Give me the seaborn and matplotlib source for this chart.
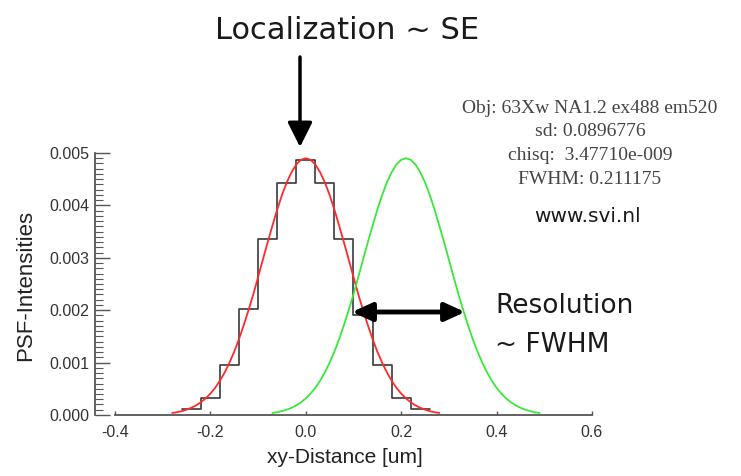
import numpy as np
import pandas as pd
import seaborn as sns
import matplotlib.pyplot as plt
from matplotlib.ticker import MultipleLocator, FormatStrFormatter

# histogram of the measured PSF (bin edges and heights)
bin_edges = [-0.26, -0.22, -0.18, -0.14, -0.10, -0.06, -0.02,
             0.02, 0.06, 0.10, 0.14, 0.18, 0.22, 0.26]
bin_heights = [0.00012, 0.00032, 0.00095, 0.00203, 0.00335, 0.00443, 0.00487,
               0.00443, 0.00335, 0.00190, 0.00095, 0.00032, 0.00012]

# fitted curve (red)
fit_x = [-0.28, -0.27, -0.26, -0.25, -0.24, -0.23, -0.22, -0.21, -0.20, -0.19,
         -0.18, -0.17, -0.16, -0.15, -0.14, -0.13, -0.12, -0.11, -0.10, -0.09,
         -0.08, -0.07, -0.06, -0.05, -0.04, -0.03, -0.02, -0.01, 0.00, 0.01,
         0.02, 0.03, 0.04, 0.05, 0.06, 0.07, 0.08, 0.09, 0.10, 0.11,
         0.12, 0.13, 0.14, 0.15, 0.16, 0.17, 0.18, 0.19, 0.20, 0.21,
         0.22, 0.23, 0.24, 0.25, 0.26, 0.27, 0.28]
fit_y = [0.000038, 0.000053, 0.000073, 0.000101, 0.000137, 0.000183, 0.000242,
         0.000317, 0.000408, 0.000519, 0.000654, 0.000813, 0.000998, 0.001209,
         0.001450, 0.001716, 0.002003, 0.002305, 0.002632, 0.002965, 0.003293,
         0.003611, 0.003918, 0.004197, 0.004437, 0.004632, 0.004780, 0.004870,
         0.004900, 0.004870, 0.004780, 0.004632, 0.004437, 0.004197, 0.003918,
         0.003611, 0.003293, 0.002965, 0.002632, 0.002305, 0.002003, 0.001716,
         0.001450, 0.001209, 0.000998, 0.000813, 0.000654, 0.000519, 0.000408,
         0.000317, 0.000242, 0.000183, 0.000137, 0.000101, 0.000073, 0.000053,
         0.000038]

# second PSF shifted by one FWHM (green)
shift_x = [-0.07, -0.06, -0.05, -0.04, -0.03, -0.02, -0.01, 0.00, 0.01, 0.02,
           0.03, 0.04, 0.05, 0.06, 0.07, 0.08, 0.09, 0.10, 0.11, 0.12,
           0.13, 0.14, 0.15, 0.16, 0.17, 0.18, 0.19, 0.20, 0.21, 0.22,
           0.23, 0.24, 0.25, 0.26, 0.27, 0.28, 0.29, 0.30, 0.31, 0.32,
           0.33, 0.34, 0.35, 0.36, 0.37, 0.38, 0.39, 0.40, 0.41, 0.42,
           0.43, 0.44, 0.45, 0.46, 0.47, 0.48, 0.49]
shift_y = [0.000038, 0.000053, 0.000073, 0.000101, 0.000137, 0.000183, 0.000242,
           0.000317, 0.000408, 0.000519, 0.000654, 0.000813, 0.000998, 0.001209,
           0.001450, 0.001716, 0.002003, 0.002305, 0.002632, 0.002965, 0.003293,
           0.003611, 0.003918, 0.004197, 0.004437, 0.004632, 0.004780, 0.004870,
           0.004900, 0.004870, 0.004780, 0.004632, 0.004437, 0.004197, 0.003918,
           0.003611, 0.003293, 0.002965, 0.002632, 0.002305, 0.002003, 0.001716,
           0.001450, 0.001209, 0.000998, 0.000813, 0.000654, 0.000519, 0.000408,
           0.000317, 0.000242, 0.000183, 0.000137, 0.000101, 0.000073, 0.000053,
           0.000038]

x_ticks = [-0.4, -0.2, 0.0, 0.2, 0.4, 0.6]
y_ticks = [0.000, 0.001, 0.002, 0.003, 0.004, 0.005]

info_lines = ["Obj: 63Xw NA1.2 ex488 em520",
              "sd: 0.0896776",
              "chisq:  3.47710e-009",
              "FWHM: 0.211175"]

sns.set_style("ticks")
plt.rcParams["axes.unicode_minus"] = False
plt.rcParams["font.family"] = ["Liberation Sans", "DejaVu Sans"]

fig = plt.figure(figsize=(7.41, 4.76), dpi=100)
ax = fig.add_axes([0.1552, 0.1282, 0.6437, 0.5504])

centers = [(a + b) / 2 for a, b in zip(bin_edges[:-1], bin_edges[1:])]
hist_df = pd.DataFrame({"x": centers, "w": bin_heights})
sns.histplot(data=hist_df, x="x", weights="w", bins=bin_edges, element="step",
             fill=False, color="#3a3a3a", linewidth=1.2, ax=ax)

sns.lineplot(x=fit_x, y=fit_y, color="#ff2a2a", linewidth=1.3, ax=ax)
sns.lineplot(x=shift_x, y=shift_y, color="#3ae83a", linewidth=1.3, ax=ax)

ax.set_xlim(-0.4, 0.6)
ax.set_ylim(0, 0.005)
ax.set_xticks(x_ticks)
ax.set_yticks(y_ticks)
ax.xaxis.set_major_formatter(FormatStrFormatter("%.1f"))
ax.yaxis.set_major_formatter(FormatStrFormatter("%.3f"))
ax.yaxis.set_minor_locator(MultipleLocator(0.0001))

for side in ["top", "right"]:
    ax.spines[side].set_visible(False)
ax.spines["left"].set_position(("outward", 14.4))
ax.spines["left"].set_bounds(0, 0.005)
for side in ["left", "bottom"]:
    ax.spines[side].set_color("#555555")
    ax.spines[side].set_linewidth(1.3)

ax.tick_params(axis="x", direction="in", length=3, width=1, color="#555555",
               labelsize=11.5, labelcolor="#333333", pad=7)
ax.tick_params(axis="y", which="major", direction="in", length=11, width=1,
               color="#555555", labelsize=11.5, labelcolor="#333333", pad=4)
ax.tick_params(axis="y", which="minor", direction="in", length=6, width=0.8,
               color="#555555")

ax.set_xlabel("xy-Distance [um]", fontsize=15, color="#222222")
ax.set_ylabel("PSF-Intensities", fontsize=16, color="#222222")
ax.xaxis.set_label_coords(0.482, -0.125)
ax.yaxis.set_label_coords(-0.165, 0.496)

# annotations
fig.text(0.468, 0.918, "Localization ~ SE", fontsize=22, ha="center",
         va="baseline", color="#1a1a1a", family="DejaVu Sans")
fig.text(0.668, 1 - 313 / 476, "Resolution", fontsize=19, ha="left",
         va="baseline", color="#1a1a1a", family="DejaVu Sans")
fig.text(0.668, 1 - 352 / 476, "~ FWHM", fontsize=19, ha="left",
         va="baseline", color="#1a1a1a", family="DejaVu Sans")

for i, line in enumerate(info_lines):
    fig.text(0.796, 1 - (113 + 23.5 * i) / 476, line, fontsize=14,
             ha="center", va="baseline", color="#444444",
             family="Liberation Serif")
fig.text(0.793, 1 - 222 / 476, "www.svi.nl", fontsize=14.5, ha="center",
         va="baseline", color="#1a1a1a", family="DejaVu Sans")

ax.annotate("", xy=(300 / 741, 1 - 147 / 476), xytext=(300 / 741, 1 - 57 / 476),
            xycoords="figure fraction", textcoords="figure fraction",
            arrowprops=dict(arrowstyle="-|>,head_length=1.5,head_width=0.75",
                            color="black", lw=2.5, shrinkA=0, shrinkB=0))
ax.annotate("", xy=(465 / 741, 1 - 312 / 476), xytext=(352 / 741, 1 - 312 / 476),
            xycoords="figure fraction", textcoords="figure fraction",
            arrowprops=dict(arrowstyle="<|-|>,head_length=1.2,head_width=0.55",
                            color="black", lw=3.5, shrinkA=0, shrinkB=0))

fig.savefig("out.png", dpi=100)
